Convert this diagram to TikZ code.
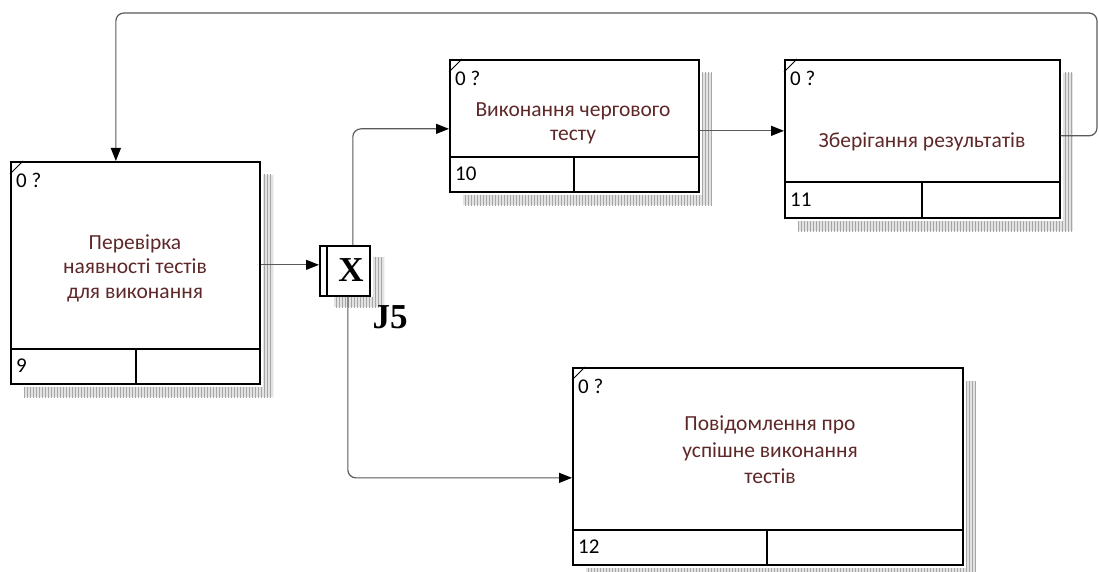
\documentclass[tikz,border=0pt]{standalone}
\usepackage{fontspec}
\setmainfont{Carlito}
\newfontfamily\tnr{Liberation Serif}
\usetikzlibrary{arrows.meta,patterns}
\definecolor{txt}{RGB}{95,40,40}
\definecolor{ln}{RGB}{90,90,90}
\tikzset{
  box/.style={draw=black, line width=1.7pt, fill=white, anchor=north west, inner sep=0pt},
  lbl/.style={text=txt, font=\fontsize{21.5}{24.5}\selectfont, align=center},
  num/.style={font=\fontsize{21}{22}\selectfont, anchor=west, inner sep=0pt},
  flow/.style={draw=ln, line width=1.2pt, -{Triangle[length=13pt,width=10pt,color=black]}, rounded corners=8pt},
  shade/.style={fill=gray!22, postaction={pattern=vertical lines, pattern color=gray!70}},
  divline/.style={line width=1.7pt},
}
% #1 name, #2 L, #3 T, #4 R, #5 B, #6 divider y, #7 divider x, #8 number
\newcommand\idefbox[8]{%
  \fill[shade] (#4+4,#3+14) rectangle (#4+14,#5+14);
  \fill[shade] (#2+14,#5+4) rectangle (#4+4,#5+14);
  \node[box, minimum width={#4-#2}, minimum height={#5-#3}] (#1) at (#2,#3) {};
  \draw[divline] (#2,#6) -- (#4,#6);
  \draw[divline] (#7,#6) -- (#7,#5);
  \draw[line width=0.9pt] (#2,#3+13) -- (#2+13,#3);
  \node[num] (#1q) at (#2+6,#3+19) {0 ?};
  \node[num] (#1n) at (#2+6,{(#6+#5)/2}) {#8};
}
\begin{document}
\begin{tikzpicture}[x=1pt,y=-1pt]
\useasboundingbox (0,0) rectangle (1099,572);
\fill[white] (0,0) rectangle (1099,572);

\idefbox{b9}{10}{161}{259}{383}{349}{136}{9}
\idefbox{b10}{449}{59}{698}{191}{157}{574}{10}
\idefbox{b11}{784}{59}{1059}{217}{182}{922}{11}
\idefbox{b12}{572}{367}{962}{564}{530}{767}{12}

\node[lbl] (t9) at (135,268) {Перевірка\\наявності тестів\\для виконання};
\node[lbl] (t10) at (573,123.5) {Виконання чергового\\тесту};
\node[lbl] (t11) at (922,142) {Зберігання результатів};
\node[lbl, font=\fontsize{21.5}{26.5}\selectfont] (t12) at (770,450) {Повідомлення про\\успішне виконання\\тестів};

% junction
\fill[shade] (373,257) rectangle (384,307);
\fill[shade] (334,297) rectangle (373,307);
\node[box, minimum width=50pt, minimum height=50pt] (j5) at (319,245) {};
\draw[divline] (327,245) -- (327,295);
\node[font=\tnr\bfseries\fontsize{35}{35}\selectfont, inner sep=0pt] (jx) at (351,270) {X};
\node[font=\tnr\bfseries\fontsize{35}{35}\selectfont, inner sep=0pt] (jl) at (390,317) {J5};

% connectors
\coordinate (loopR) at (1097,13);
\draw[flow] ([yshift=8pt]b9.east) -- ([yshift=6pt]j5.west);
\draw[flow] ([xshift=8pt]j5.north) |- ([yshift=-3pt]b10.west);
\draw[flow] ([xshift=3pt]j5.south) |- ([yshift=-11.5pt]b12.west);
\draw[flow] ([yshift=-5pt]b10.east) -- ([yshift=8pt]b11.west);
\draw[flow] ([yshift=3pt]b11.east) -| (loopR) -| ([xshift=-19.5pt]b9.north);
\end{tikzpicture}
\end{document}
